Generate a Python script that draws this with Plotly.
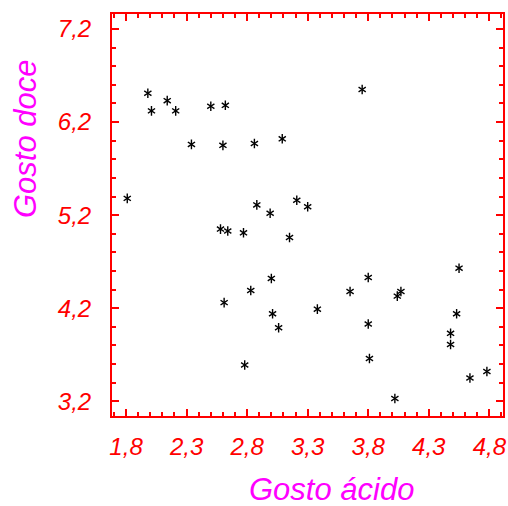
import plotly.graph_objects as go

acido = [1.98, 2.01, 2.14, 2.21, 2.34, 2.50, 2.62, 2.60, 2.86, 3.09,
         1.81, 2.88, 2.99, 3.21, 3.30, 3.75,
         2.58, 2.64, 2.77, 3.15, 3.00, 2.83, 2.61, 3.01, 3.06, 2.78,
         3.80, 3.65, 3.38, 4.07, 4.04, 4.55, 4.53, 4.48, 4.48, 3.80,
         3.81, 4.02, 4.64, 4.78]
doce = [6.51, 6.32, 6.43, 6.32, 5.96, 6.37, 6.38, 5.95, 5.97, 6.02,
        5.38, 5.31, 5.22, 5.36, 5.29, 6.55,
        5.05, 5.03, 5.01, 4.96, 4.52, 4.39, 4.26, 4.14, 3.99, 3.59,
        4.53, 4.38, 4.19, 4.38, 4.33, 4.63, 4.14, 3.93, 3.81, 4.03,
        3.66, 3.23, 3.45, 3.52]

red = "#FF0000"
mag = "#FF00FF"
fam = "Liberation Sans, Arial, sans-serif"
tfont = dict(family=fam, size=24, color=red, style="italic")

fig = go.Figure()
for sym in ["y-up-open", "y-down-open"]:
    fig.add_trace(go.Scatter(
        x=acido, y=doce, mode="markers",
        marker=dict(symbol=sym, size=6, color="black",
                    line=dict(color="black", width=1.4)),
        hoverinfo="x+y", showlegend=False))

axis_common = dict(
    showgrid=False, zeroline=False, showline=True, linecolor=red, linewidth=2,
    mirror="allticks", ticks="inside", ticklen=7, tickwidth=1.5, tickcolor=red,
    tickformat=".1f", tickfont=tfont, automargin=False,
)
fig.update_xaxes(range=[1.684, 4.913], tick0=1.8, dtick=0.5,
                 minor=dict(dtick=0.1, ticks="inside", ticklen=4, tickcolor=red, tickwidth=1.5, showgrid=False),
                 ticklabelstandoff=8, **axis_common)
fig.update_yaxes(range=[3.042, 7.361], tick0=3.2, dtick=1,
                 minor=dict(dtick=0.2, ticks="inside", ticklen=4, tickcolor=red, tickwidth=1.5, showgrid=False),
                 ticklabelstandoff=14, **axis_common)

title_font = dict(family=fam, size=31, color=mag, style="italic")
fig.add_annotation(text="Gosto ácido", xref="paper", yref="paper",
                   x=(331 - 112) / (503 - 112), y=(416 - 489) / (416 - 14),
                   xanchor="center", yanchor="middle", showarrow=False, font=title_font)
fig.add_annotation(text="Gosto doce", xref="paper", yref="paper",
                   x=(25 - 112) / (503 - 112), y=(416 - 139) / (416 - 14),
                   textangle=-90, showarrow=False, font=title_font,
                   xanchor="center", yanchor="middle")

fig.update_layout(
    width=508, height=506, separators=",.",
    margin=dict(l=112, r=5, t=14, b=90, autoexpand=False),
    plot_bgcolor="white", paper_bgcolor="white",
)
fig.write_html("out.html", config={"displayModeBar": False},
               post_script="document.body.style.margin='0';")
